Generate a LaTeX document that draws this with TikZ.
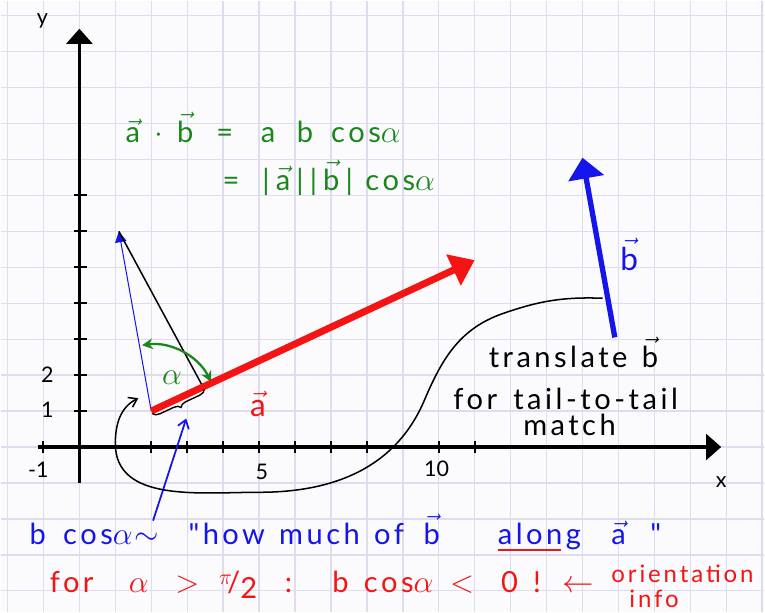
\documentclass[tikz,border=0pt]{standalone}
\usepackage{amsmath}
\usepackage{fontspec}
\setmainfont{Lato}
\newfontfamily\handfont[LetterSpace=12,WordSpace=1.3]{Lato}
\usetikzlibrary{arrows.meta,calc,positioning,decorations.pathreplacing}
\definecolor{gridlilac}{RGB}{222,220,238}
\definecolor{paper}{RGB}{251,251,253}
\definecolor{penred}{RGB}{245,20,20}
\definecolor{penblue}{RGB}{20,20,235}
\definecolor{pengreen}{RGB}{25,135,25}
\newcommand{\vect}[1]{$\vec{\text{#1}}$}
\newcommand{\gap}[1]{\hspace{#1cm}}

\begin{document}
\begin{tikzpicture}[
  gridline/.style={draw=gridlilac,line width=1.1pt},
  axis/.style={line width=2.4pt,-{Triangle[length=0.42cm,width=0.72cm]}},
  axtick/.style={line width=1.6pt},
  hand/.style={font=\handfont\fontsize{23}{27}\selectfont,inner sep=0pt},
  numlabel/.style={font=\fontsize{17}{20}\selectfont,inner sep=1pt},
  avec/.style={penred,line width=5.5pt,-{Triangle[length=0.65cm,width=0.92cm]}},
  bvec/.style={penblue,line width=4.2pt,-{Triangle[length=0.58cm,width=0.98cm]}},
  thinvec/.style={penblue,line width=0.8pt,-{Triangle[length=0.3cm,width=0.32cm]}},
  anglearc/.style={pengreen,line width=1.8pt,{Stealth[length=0.3cm,width=0.3cm]}-{Stealth[length=0.3cm,width=0.3cm]}},
  curvearrow/.style={line width=1.2pt,-{Straight Barb[length=0.22cm,width=0.3cm]}},
  pointer/.style={penblue,line width=1.4pt,-{Straight Barb[length=0.22cm,width=0.32cm]}}
]

\fill[paper] (-2.19,-4.58) rectangle (19.06,12.42);
\draw[gridline] (-2.19,-4.58) grid (19.06,12.42);
\useasboundingbox (-2.19,-4.58) rectangle (19.06,12.42);

% axes
\draw[axis] (-1.14,0) -- (17.86,0);
\draw[axis] (0,-1) -- (0,11.64);
\foreach \x in {-1,2,3,4,5,6,7,8,10,11}
  \draw[axtick] (\x,-0.17) -- (\x,0.17);
\foreach \y in {1,...,7}
  \draw[axtick] (-0.15,\y) -- (0.2,\y);
\node[numlabel] (xlab) at (17.86,-0.97) {x};
\node[numlabel] (ylab) at (-1.03,11.86) {y};
\node[numlabel] (xm1) at (-1.14,-0.64) {-1};
\node[numlabel] (xfive) at (5.08,-0.69) {5};
\node[numlabel] (xten) at (9.94,-0.6) {10};
\node[numlabel] (yone) at (-0.89,1.03) {1};
\node[numlabel] (ytwo) at (-0.89,2.0) {2};

% vectors
\coordinate (atail) at (2,1);
\coordinate (atip) at (11,5.2);
\coordinate (btip) at (1.1,6);
\coordinate (foot) at ($(atail)!0.16!(atip)$);
\coordinate (btail2) at (14.9,3.05);
\coordinate (btip2) at ($(btail2)+(btip)-(atail)$);

\draw[thinvec] (atail) -- (btip);
\draw[line width=1.2pt] (btip) -- (foot);
\draw[anglearc] ($(atail)+(98:1.85)$) arc[start angle=98,end angle=26,radius=1.85];
\draw[avec] (atail) -- (atip);
\draw[bvec] (btail2) -- (btip2);

\node[pengreen,font=\fontsize{28}{30}\selectfont] (alph) at (2.58,1.92) {$\alpha$};
\node[hand,penred,font=\fontsize{25}{28}\selectfont] (alab) at (4.97,1.2) {\vect{a}};
\node[hand,penblue,font=\fontsize{25}{28}\selectfont] (blab) at (15.3,5.35) {\vect{b}};

% projection b cos(alpha)
\draw[line width=1.1pt,decorate,decoration={brace,mirror,amplitude=0.18cm,raise=0.08cm}] (atail) -- (foot);
\coordinate (bmid) at ($(atail)!0.5!(foot)$);
\coordinate (ptip) at ($(bmid)!0.6cm!-90:(foot)$);
\coordinate (ptail) at (2.05,-2.05);
\draw[pointer] (ptail) -- (ptip);

% moving b to the tail of a
\coordinate (cstart) at (14.56,4.14);
\coordinate (cend) at (1.64,1.36);
\draw[curvearrow] (cstart) to[out=178,in=19] (11.8,3.72) to[out=199,in=67] (9.6,1.3)
  to[out=247,in=0] (5.0,-1.26) to[out=180,in=270] (1.0,0.1) to[out=90,in=207] (cend);
\node[hand,anchor=base] (translone) at (13.75,2.22) {translate\gap{0.4}\vect{b}};
\node[hand,anchor=base] (transltwo) at (13.53,1.03) {for\gap{0.45}tail\gap{0.1}-\gap{0.1}to\gap{0.1}-\gap{0.1}tail};
\node[hand,anchor=base] (translthree) at (13.64,0.33) {match};

% formulas
\node[hand,pengreen,anchor=base west] (dotone) at (1.28,8.47)
  {\vect{a}\gap{0.4}$\cdot$\gap{0.39}\vect{b}\gap{0.64}=\gap{0.77}a\gap{0.6}b\gap{0.5}cos$\alpha$};
\node[hand,pengreen,anchor=base west] (dottwo) at (3.98,7.14)
  {=\gap{0.64}|\gap{0.17}\vect{a}\gap{0.17}|\gap{0.17}|\gap{0.17}\vect{b}\gap{0.17}|\gap{0.35}cos$\alpha$};

\node[hand,penblue,anchor=base west] (bcos) at (-1.39,-2.72) {b\gap{0.48}cos$\alpha$\gap{0.05}$\sim$};
\node[hand,penblue,anchor=base west] (howmuch) at (3.03,-2.72) {"how much of\gap{0.55}\vect{b}};
\node[hand,penblue,anchor=base west] (along) at (11.64,-2.72) {along};
\draw[penred,line width=1.6pt] ([yshift=-4pt]along.base west) -- ([yshift=-4pt,xshift=-0.55cm]along.base east);
\node[hand,penblue,anchor=base west] (avect) at (14.8,-2.72) {\vect{a}\gap{0.68}"};

\node[hand,penred,anchor=base west] (cond) at (-0.83,-4.06)
  {for\gap{0.98}$\alpha$\gap{0.75}$>$\gap{0.55}\raisebox{0.3em}{\fontsize{18}{18}\selectfont$\pi$}\!/\raisebox{-0.2em}{2}\gap{0.77}:};
\node[hand,penred,anchor=base west] (neg) at (7.03,-4.06)
  {b\gap{0.43}cos$\alpha$\gap{0.47}$<$\gap{0.75}0\gap{0.42}!\gap{0.6}$\leftarrow$};
\node[hand,penred,font=\handfont\fontsize{19}{20}\selectfont,align=left,anchor=north west] (orient) at (14.8,-3.28) {orientation\\\hspace*{0.5cm}info};

\end{tikzpicture}
\end{document}
